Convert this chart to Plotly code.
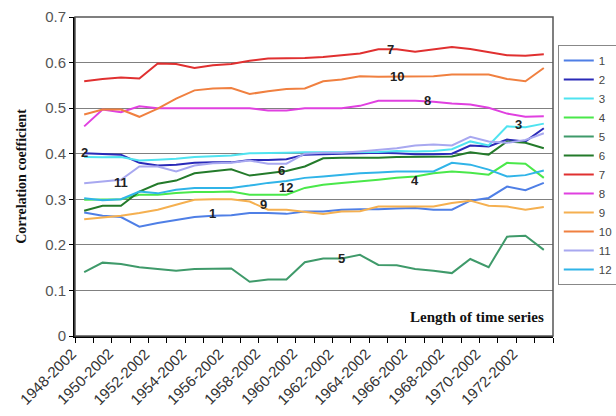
import plotly.graph_objects as go

years = list(range(1948, 1974))
categories = [f"{y}-2002" for y in years]
tick_labels = [c for y, c in zip(years, categories) if y % 2 == 0]
ytick_vals = [0, 0.1, 0.2, 0.3, 0.4, 0.5, 0.6, 0.7]
ytick_text = ["0", "0.1", "0.2", "0.3", "0.4", "0.5", "0.6", "0.7"]

s1 = [0.271, 0.264, 0.261, 0.240, 0.248, 0.255, 0.261, 0.264, 0.265, 0.270, 0.270, 0.268, 0.273, 0.273, 0.277, 0.278, 0.278, 0.280, 0.281, 0.277, 0.277, 0.297, 0.303, 0.328, 0.320, 0.336]
s2 = [0.401, 0.400, 0.398, 0.380, 0.374, 0.376, 0.380, 0.381, 0.381, 0.386, 0.386, 0.388, 0.398, 0.399, 0.400, 0.400, 0.402, 0.401, 0.399, 0.399, 0.400, 0.418, 0.416, 0.431, 0.427, 0.456]
s3 = [0.393, 0.392, 0.393, 0.385, 0.387, 0.389, 0.393, 0.394, 0.396, 0.401, 0.401, 0.402, 0.403, 0.403, 0.403, 0.404, 0.404, 0.406, 0.405, 0.406, 0.410, 0.427, 0.418, 0.460, 0.458, 0.466]
s4 = [0.299, 0.300, 0.300, 0.310, 0.310, 0.314, 0.316, 0.316, 0.317, 0.310, 0.310, 0.310, 0.325, 0.332, 0.336, 0.339, 0.343, 0.347, 0.350, 0.357, 0.361, 0.358, 0.354, 0.380, 0.378, 0.347]
s5 = [0.140, 0.161, 0.158, 0.151, 0.147, 0.143, 0.147, 0.147, 0.148, 0.119, 0.124, 0.124, 0.162, 0.170, 0.170, 0.178, 0.156, 0.155, 0.147, 0.143, 0.138, 0.169, 0.151, 0.218, 0.220, 0.189]
s6 = [0.275, 0.286, 0.286, 0.317, 0.334, 0.341, 0.357, 0.361, 0.366, 0.352, 0.357, 0.362, 0.372, 0.390, 0.391, 0.391, 0.391, 0.393, 0.393, 0.394, 0.394, 0.403, 0.398, 0.427, 0.424, 0.412]
s7 = [0.559, 0.564, 0.567, 0.565, 0.598, 0.597, 0.588, 0.594, 0.597, 0.604, 0.609, 0.609, 0.610, 0.612, 0.616, 0.620, 0.629, 0.629, 0.624, 0.629, 0.634, 0.630, 0.623, 0.616, 0.615, 0.618]
s8 = [0.460, 0.497, 0.491, 0.504, 0.500, 0.500, 0.500, 0.500, 0.500, 0.500, 0.495, 0.495, 0.500, 0.500, 0.500, 0.505, 0.516, 0.516, 0.516, 0.514, 0.510, 0.508, 0.501, 0.488, 0.481, 0.482]
s9 = [0.256, 0.260, 0.264, 0.270, 0.277, 0.288, 0.299, 0.300, 0.300, 0.295, 0.277, 0.277, 0.273, 0.268, 0.273, 0.274, 0.284, 0.284, 0.284, 0.284, 0.292, 0.297, 0.286, 0.284, 0.277, 0.283]
s10 = [0.486, 0.497, 0.497, 0.481, 0.499, 0.521, 0.539, 0.543, 0.544, 0.531, 0.537, 0.542, 0.543, 0.559, 0.563, 0.570, 0.569, 0.569, 0.569, 0.570, 0.574, 0.574, 0.574, 0.564, 0.559, 0.588]
s11 = [0.335, 0.339, 0.343, 0.372, 0.372, 0.361, 0.374, 0.379, 0.380, 0.385, 0.378, 0.378, 0.400, 0.402, 0.402, 0.405, 0.408, 0.412, 0.418, 0.420, 0.418, 0.437, 0.427, 0.424, 0.430, 0.445]
s12 = [0.302, 0.298, 0.300, 0.317, 0.313, 0.321, 0.325, 0.325, 0.325, 0.330, 0.336, 0.340, 0.347, 0.350, 0.354, 0.357, 0.359, 0.361, 0.361, 0.361, 0.380, 0.376, 0.365, 0.350, 0.353, 0.363]

series = [s1, s2, s3, s4, s5, s6, s7, s8, s9, s10, s11, s12]
names = ["1", "2", "3", "4", "5", "6", "7", "8", "9", "10", "11", "12"]
colors = ["#4f7fe6", "#2a2ab8", "#4fe3f0", "#4ae84a", "#3f9a6a", "#237a2a",
          "#e03030", "#e040e0", "#f5b050", "#f08040", "#a8a8f0", "#30b4e8"]

# series label positions: (category index, value)
label_pos = {
    "1": (7.0, 0.268), "2": (0.0, 0.403), "3": (23.6, 0.464), "4": (18.0, 0.341),
    "5": (14.0, 0.171), "6": (10.75, 0.364), "7": (16.65, 0.629), "8": (18.7, 0.517),
    "9": (9.75, 0.288), "10": (17.0, 0.570), "11": (2.0, 0.337), "12": (11.0, 0.326),
}

fig = go.Figure()
for name, vals, col in zip(names, series, colors):
    fig.add_trace(go.Scatter(x=categories, y=vals, mode="lines", name=name,
                             line=dict(color=col, width=2)))

for name, (xi, yv) in label_pos.items():
    fig.add_annotation(x=xi, y=yv, xref="x", yref="y", text=f"<b>{name}</b>",
                       showarrow=False, font=dict(family="Liberation Sans", size=13, color="#222"))

# rotated category labels (every second year)
for lab in tick_labels:
    fig.add_annotation(x=categories.index(lab), y=0, xref="x", yref="paper",
                       text=lab, textangle=-45, showarrow=False,
                       xanchor="right", yanchor="top", xshift=-2, yshift=-6,
                       font=dict(family="Liberation Sans", size=15, color="#333"))

fig.add_annotation(x=0.985, y=0.06, xref="paper", yref="paper", xanchor="right", yanchor="middle",
                   text="<b>Length of time series</b>", showarrow=False,
                   font=dict(family="Liberation Serif", size=15, color="#111"))

fig.add_shape(type="rect", xref="paper", yref="paper", x0=0, y0=0, x1=1, y1=1,
              line=dict(color="#555", width=1.5), layer="above")

fig.update_layout(
    width=616, height=416,
    margin=dict(l=75, r=63, t=17, b=80, autoexpand=False),
    paper_bgcolor="white", plot_bgcolor="white",
    showlegend=True,
    legend=dict(x=1.01, y=0.912, xanchor="left", yanchor="top",
                bordercolor="#888", borderwidth=1, bgcolor="white",
                itemwidth=30,
                font=dict(family="Liberation Sans", size=11.5, color="#444"),
                tracegroupgap=0),
    xaxis=dict(type="category", range=[-0.5, len(categories) - 0.5], autorange=False,
               tickmode="array", tickvals=categories,
               ticktext=[""] * len(categories), automargin=False,
               tickson="boundaries", ticks="outside", ticklen=5, tickcolor="black",
               showgrid=False, showline=True, linecolor="black", linewidth=2),
    yaxis=dict(range=[0, 0.7], autorange=False, tickmode="array", tickvals=ytick_vals,
               ticktext=ytick_text, automargin=False,
               showgrid=True, gridcolor="#808080",
               gridwidth=1, zeroline=False, showline=True, linecolor="black", linewidth=2,
               ticks="outside", ticklen=4, tickcolor="black",
               tickfont=dict(family="Liberation Sans", size=15, color="#555"),
               title=dict(text="<b>Correlation coefficient</b>",
                          font=dict(family="Liberation Serif", size=14, color="#111"))),
)

fig.write_html("out.html", config={"displayModeBar": False},
               post_script="document.body.style.margin='0px';document.body.style.overflow='hidden';")
